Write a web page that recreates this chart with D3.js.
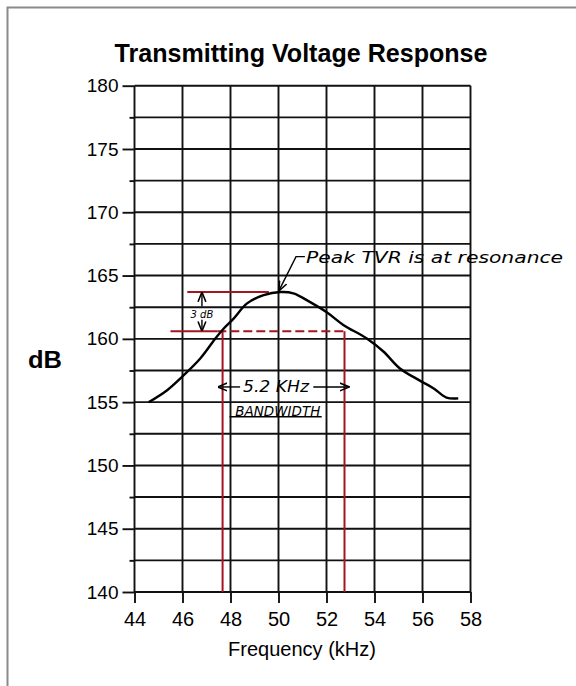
<!DOCTYPE html>
<html><head><meta charset="utf-8">
<script src="https://cdn.jsdelivr.net/npm/d3@7"></script>
<style>body{margin:0;background:#fff}svg{display:block}</style>
</head><body>
<svg id="c" width="576" height="686"></svg>
<script>
// ---- data ----
const freq = [44.6,45.36,45.98,46.74,47.37,47.71,48.13,48.69,49.38,50.07,50.62,51.32,52.01,52.7,53.68,54.37,55.06,55.89,56.45,57.0,57.49];
const tvr  = [155.0,155.94,157.0,158.45,160.03,160.8,161.6,162.8,163.45,163.7,163.6,162.9,162.1,161.1,160.03,159.0,157.66,156.7,156.1,155.36,155.3];
const xTicks = [44,46,48,50,52,54,56,58];
const yTicks = [140,145,150,155,160,165,170,175,180];
const yMinor = [142.5,147.5,152.5,157.5,162.5,167.5,172.5,177.5];
const peakDb = 163.7, halfDb = 160.6;
const bandLo = 47.67, bandHi = 52.75;

const svg = d3.select("#c");
const x = d3.scaleLinear().domain([44,58]).range([134.5,470.5]);
const y = d3.scaleLinear().domain([140,180]).range([592,85.7]);
const RED = "#a3161f";

// frame
svg.append("path").attr("d","M7.5,686V7.5H576").attr("fill","none").attr("stroke","#8a8a8a").attr("stroke-width",2);

// title
svg.append("text").attr("x",301).attr("y",62).attr("text-anchor","middle")
  .attr("font-family","Liberation Sans, Arial, sans-serif").attr("font-weight","bold").attr("font-size",25)
  .attr("textLength",373).attr("lengthAdjust","spacingAndGlyphs")
  .text("Transmitting Voltage Response");

// grid
const g = svg.append("g").attr("stroke","#111").attr("stroke-width",1.9);
g.selectAll(".v").data(xTicks).join("line").attr("x1",d=>x(d)).attr("x2",d=>x(d)).attr("y1",y(180)).attr("y2",y(140));
g.selectAll(".h").data(yTicks.concat(yMinor)).join("line").attr("x1",x(44)).attr("x2",x(58)).attr("y1",d=>y(d)).attr("y2",d=>y(d));

// axes
const font = "Liberation Sans, Arial, sans-serif";
const ax = svg.append("g").attr("transform",`translate(${x(44)},0)`)
  .call(d3.axisLeft(y).tickValues(yTicks).tickSize(12).tickSizeOuter(0).tickPadding(4).tickFormat(d3.format("d")));
const axm = svg.append("g").attr("transform",`translate(${x(44)},0)`)
  .call(d3.axisLeft(y).tickValues(yMinor).tickSize(5).tickSizeOuter(0).tickFormat(""));
const bx = svg.append("g").attr("transform",`translate(0,${y(140)})`)
  .call(d3.axisBottom(x).tickValues(xTicks).tickSize(11).tickSizeOuter(0).tickPadding(9).tickFormat(d3.format("d")));
[ax,axm,bx].forEach(a=>{a.select(".domain").remove();a.selectAll("line").attr("stroke","#111").attr("stroke-width",1.9);});
ax.selectAll("text").attr("font-family",font).attr("font-size",19).attr("fill","#000");
bx.selectAll("text").attr("font-family",font).attr("font-size",20).attr("fill","#000");

svg.append("text").attr("x",302).attr("y",656).attr("text-anchor","middle").attr("font-family",font).attr("font-size",20).text("Frequency (kHz)");
svg.append("text").attr("x",28).attr("y",368).attr("font-family",font).attr("font-weight","bold").attr("font-size",24)
  .attr("textLength",34).attr("lengthAdjust","spacingAndGlyphs").text("dB");

// red annotation lines
const r = svg.append("g").attr("stroke",RED).attr("stroke-width",2).attr("fill","none");
r.append("line").attr("x1",x(46.2)).attr("x2",x(49.6)).attr("y1",y(peakDb)).attr("y2",y(peakDb));
r.append("line").attr("x1",x(45.5)).attr("x2",x(47.45)).attr("y1",y(halfDb)).attr("y2",y(halfDb));
r.append("line").attr("x1",x(47.45)).attr("x2",x(bandHi)).attr("y1",y(halfDb)).attr("y2",y(halfDb)).attr("stroke-dasharray","9,4");
[bandLo,bandHi].forEach(f=>r.append("line").attr("x1",x(f)).attr("x2",x(f)).attr("y1",y(halfDb)).attr("y2",y(140)));

// curve
svg.append("path").datum(freq.map((f,i)=>[f,tvr[i]]))
  .attr("d",d3.line().x(d=>x(d[0])).y(d=>y(d[1])).curve(d3.curveCatmullRom))
  .attr("fill","none").attr("stroke","#000").attr("stroke-width",2.4).attr("stroke-linejoin","round");

// handwritten annotations
const hw = "DejaVu Sans, sans-serif";
const defs = svg.append("defs");
defs.append("marker").attr("id","ah").attr("viewBox","0 0 10 10").attr("refX",9).attr("refY",5)
  .attr("markerWidth",7).attr("markerHeight",7).attr("orient","auto-start-reverse")
  .append("path").attr("d","M0,1L10,5L0,9").attr("fill","none").attr("stroke","#000").attr("stroke-width",1.6);
const a = svg.append("g").attr("stroke","#000").attr("stroke-width",1.4).attr("fill","none");
// 3 dB arrows
a.append("line").attr("x1",x(46.81)).attr("x2",x(46.81)).attr("y1",y(162.55)).attr("y2",y(peakDb)+1).attr("marker-end","url(#ah)");
a.append("line").attr("x1",x(46.81)).attr("x2",x(46.81)).attr("y1",y(161.5)).attr("y2",y(halfDb)-1).attr("marker-end","url(#ah)");
svg.append("text").attr("x",x(46.81)).attr("y",y(161.62)).attr("text-anchor","middle").attr("font-family",hw).attr("font-style","italic").attr("font-size",10).text("3 dB");
// bandwidth arrows
a.append("line").attr("x1",x(48.4)).attr("x2",x(47.5)).attr("y1",y(156.2)).attr("y2",y(156.2)).attr("marker-end","url(#ah)");
a.append("line").attr("x1",x(51.45)).attr("x2",x(52.92)).attr("y1",y(156.2)).attr("y2",y(156.2)).attr("marker-end","url(#ah)");
svg.append("text").attr("x",x(48.52)).attr("y",y(155.78)).attr("font-family",hw).attr("font-style","italic").attr("font-size",15)
  .attr("textLength",66).attr("lengthAdjust","spacingAndGlyphs").text("5.2  KHz");
svg.append("text").attr("x",x(48.2)).attr("y",y(153.9)).attr("font-family",hw).attr("font-style","italic").attr("font-size",14)
  .attr("textLength",85).attr("lengthAdjust","spacingAndGlyphs").text("BANDWIDTH");
a.append("line").attr("x1",x(47.96)).attr("x2",x(51.8)).attr("y1",y(153.85)).attr("y2",y(153.85));
// peak leader
a.append("path").attr("d",d3.line()([[x(51.1),y(166.5)],[x(50.73),y(166.5)],[x(50.03),y(163.85)]])).attr("marker-end","url(#ah)");
svg.append("text").attr("x",x(51.15)).attr("y",y(166.0)).attr("font-family",hw).attr("font-style","italic").attr("font-size",16)
  .attr("textLength",257).attr("lengthAdjust","spacingAndGlyphs").text("Peak TVR  is at resonance");
</script>
</body></html>
